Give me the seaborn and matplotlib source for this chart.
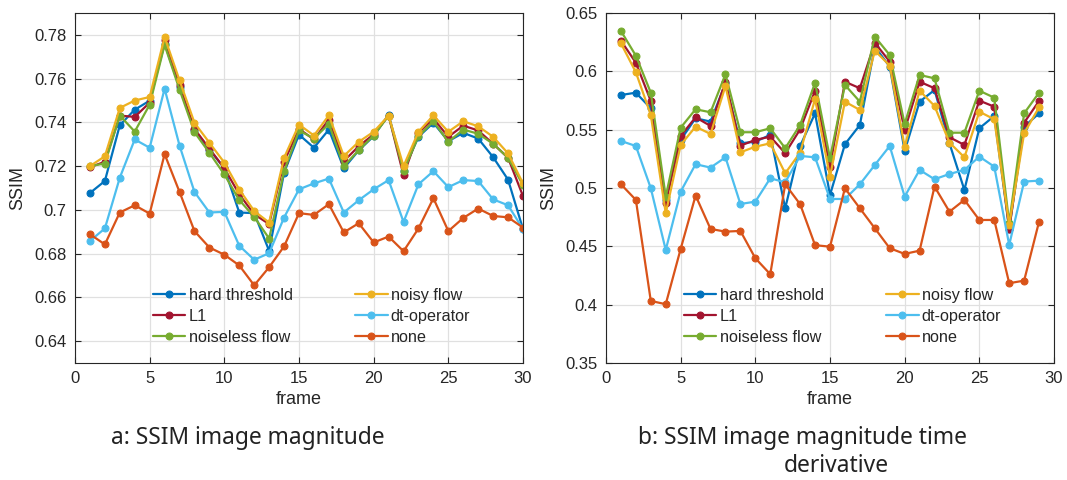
import numpy as np
import pandas as pd
import matplotlib
matplotlib.use("Agg")
import matplotlib.pyplot as plt
import seaborn as sns

# ---------------- data ----------------
frames_a = list(range(1, 31))
frames_b = list(range(1, 30))

series_names = ["hard threshold", "L1", "noiseless flow", "noisy flow", "dt-operator", "none"]
series_colors = ["#0072BD", "#A2142F", "#77AC30", "#EDB120", "#4DBEEE", "#D95319"]

a_hard = [0.7077, 0.7132, 0.7387, 0.7458, 0.7499, 0.776, 0.756, 0.7367, 0.7276, 0.719,
          0.6988, 0.6985, 0.6813, 0.717, 0.7344, 0.7284, 0.7367, 0.719, 0.7272, 0.7337,
          0.7435, 0.718, 0.7334, 0.7398, 0.7314, 0.7352, 0.7326, 0.7241, 0.7138, 0.6912]
a_l1 = [0.7195, 0.722, 0.7431, 0.7425, 0.749, 0.7777, 0.757, 0.737, 0.728, 0.719,
        0.7071, 0.698, 0.6935, 0.722, 0.737, 0.7322, 0.7413, 0.7223, 0.7291, 0.7345,
        0.7431, 0.7158, 0.7352, 0.7417, 0.7334, 0.7385, 0.7363, 0.7302, 0.7238, 0.7063]
a_noiseless = [0.72, 0.7212, 0.7431, 0.7358, 0.7481, 0.7754, 0.755, 0.7355, 0.7261, 0.7162,
               0.7045, 0.6968, 0.6869, 0.7177, 0.7363, 0.7326, 0.7393, 0.72, 0.7273, 0.734,
               0.7431, 0.7177, 0.7337, 0.7405, 0.7311, 0.7367, 0.7348, 0.7302, 0.7238, 0.7113]
a_noisy = [0.72, 0.7245, 0.7466, 0.75, 0.7516, 0.779, 0.7592, 0.7398, 0.7307, 0.7216,
           0.7093, 0.6995, 0.6942, 0.7238, 0.739, 0.734, 0.7432, 0.7246, 0.7311, 0.7357,
           0.7431, 0.72, 0.7357, 0.7432, 0.7357, 0.7405, 0.7382, 0.7334, 0.7258, 0.7121]
a_dt = [0.6858, 0.6915, 0.7147, 0.7322, 0.7284, 0.7554, 0.7294, 0.7082, 0.6988, 0.6991,
        0.6836, 0.6772, 0.6802, 0.6965, 0.7094, 0.7121, 0.7143, 0.6988, 0.7044, 0.7094,
        0.7136, 0.6945, 0.7117, 0.7177, 0.7104, 0.7136, 0.7132, 0.7048, 0.7021, 0.6912]
a_none = [0.6889, 0.6842, 0.6988, 0.7021, 0.6983, 0.7255, 0.7082, 0.6903, 0.6828, 0.6795,
          0.6746, 0.6655, 0.6738, 0.6833, 0.6985, 0.6977, 0.7026, 0.6897, 0.6939, 0.6851,
          0.6878, 0.6811, 0.6915, 0.7053, 0.6903, 0.6963, 0.7006, 0.6972, 0.6966, 0.6919]

b_hard = [0.5797, 0.5817, 0.5683, 0.49, 0.5412, 0.5598, 0.5569, 0.5897, 0.5383, 0.5397,
          0.5455, 0.4826, 0.536, 0.564, 0.494, 0.5375, 0.554, 0.6211, 0.604, 0.5317,
          0.574, 0.584, 0.5383, 0.4983, 0.5512, 0.5617, 0.465, 0.5526, 0.564]
b_l1 = [0.6263, 0.6074, 0.5746, 0.4869, 0.5446, 0.5606, 0.5532, 0.5911, 0.5363, 0.5412,
        0.544, 0.5298, 0.5503, 0.5834, 0.5183, 0.5911, 0.5855, 0.6245, 0.6083, 0.5497,
        0.5911, 0.5855, 0.5435, 0.5369, 0.5749, 0.5697, 0.4647, 0.556, 0.5746]
b_noiseless = [0.6346, 0.6134, 0.5817, 0.4926, 0.5517, 0.5675, 0.5649, 0.5975, 0.5478, 0.5478,
               0.5512, 0.5341, 0.554, 0.5903, 0.5255, 0.5883, 0.574, 0.6297, 0.614, 0.5549,
               0.5969, 0.594, 0.5474, 0.5474, 0.5834, 0.5774, 0.47, 0.564, 0.5817]
b_noisy = [0.624, 0.5992, 0.5626, 0.4784, 0.5369, 0.5526, 0.5463, 0.5874, 0.5306, 0.5354,
           0.5383, 0.5126, 0.5303, 0.5763, 0.5097, 0.574, 0.5669, 0.6177, 0.605, 0.5354,
           0.5834, 0.5703, 0.5389, 0.5263, 0.5654, 0.5589, 0.4683, 0.5469, 0.5692]
b_dt = [0.5403, 0.536, 0.4998, 0.4469, 0.4969, 0.5204, 0.5175, 0.5263, 0.4863, 0.4883,
        0.5083, 0.5049, 0.5275, 0.5263, 0.4906, 0.4906, 0.5032, 0.5197, 0.536, 0.4926,
        0.5155, 0.5075, 0.512, 0.5155, 0.5269, 0.5183, 0.4512, 0.5055, 0.5063]
b_none = [0.5032, 0.4898, 0.4032, 0.4004, 0.4478, 0.4935, 0.4649, 0.4626, 0.4632, 0.4398,
          0.4261, 0.5032, 0.4861, 0.451, 0.4497, 0.4998, 0.4826, 0.4655, 0.4484, 0.4435,
          0.4463, 0.5012, 0.4797, 0.4898, 0.4726, 0.4726, 0.4184, 0.4206, 0.4712]

a_ticks = [0.64, 0.66, 0.68, 0.70, 0.72, 0.74, 0.76, 0.78]
a_ticklabels = ["0.64", "0.66", "0.68", "0.7", "0.72", "0.74", "0.76", "0.78"]
b_ticks = [0.35, 0.40, 0.45, 0.50, 0.55, 0.60, 0.65]
b_ticklabels = ["0.35", "0.4", "0.45", "0.5", "0.55", "0.6", "0.65"]
x_ticks = [0, 5, 10, 15, 20, 25, 30]

caption_a = "a: SSIM image magnitude"
caption_b1 = "b: SSIM image magnitude time"
caption_b2 = "derivative"

# ---------------- style ----------------
sns.set_style("white")
plt.rcParams["font.family"] = ["Liberation Sans", "DejaVu Sans"]

fig = plt.figure(figsize=(10.67, 4.8), dpi=100)
ax_a = fig.add_axes([75 / 1067, 117 / 480, 448 / 1067, 350 / 480])
ax_b = fig.add_axes([606 / 1067, 117 / 480, 448 / 1067, 350 / 480])


def make_df(frames, arrays):
    rows = []
    for name, vals in zip(series_names, arrays):
        for f, v in zip(frames, vals):
            rows.append({"frame": f, "SSIM": v, "method": name})
    return pd.DataFrame(rows)


df_a = make_df(frames_a, [a_hard, a_l1, a_noiseless, a_noisy, a_dt, a_none])
df_b = make_df(frames_b, [b_hard, b_l1, b_noiseless, b_noisy, b_dt, b_none])

palette = dict(zip(series_names, series_colors))

for ax, df, ylim, yt, ytl in [
    (ax_a, df_a, (0.63, 0.79), a_ticks, a_ticklabels),
    (ax_b, df_b, (0.35, 0.65), b_ticks, b_ticklabels),
]:
    for name in series_names:
        sub = df[df["method"] == name]
        sns.lineplot(data=sub, x="frame", y="SSIM", ax=ax, color=palette[name],
                     marker="o", markersize=5, markeredgecolor=palette[name],
                     linewidth=1.6, label=name)
    ax.set_xlim(0, 30)
    ax.set_ylim(*ylim)
    ax.set_xticks(x_ticks)
    ax.set_xticklabels([str(t) for t in x_ticks])
    ax.set_yticks(yt)
    ax.set_yticklabels(ytl)
    ax.grid(True, color="#e0e0e0", linewidth=0.9)
    ax.set_axisbelow(True)
    for s in ax.spines.values():
        s.set_visible(True)
        s.set_color("#262626")
        s.set_linewidth(0.8)
    ax.tick_params(direction="in", length=4, width=0.8, colors="#262626",
                   labelsize=12, top=True, right=True, bottom=True, left=True,
                   labelcolor="#262626", pad=6)
    ax.set_xlabel("frame", fontsize=13, color="#262626", labelpad=3)
    ax.set_ylabel("SSIM", fontsize=13, color="#262626", labelpad=6)
    leg = ax.legend(loc="center", bbox_to_anchor=(0.528, 0.133), ncol=2, frameon=False,
                    fontsize=11.7, handlelength=2.0, handletextpad=0.2,
                    columnspacing=3.85, labelspacing=0.36, borderaxespad=0)
    for t in leg.get_texts():
        t.set_color("#262626")

cap_font = ["Noto Sans", "DejaVu Sans"]
fig.text(248 / 1067, 1 - 438 / 480, caption_a, ha="center", va="center",
         fontsize=16.4, family=cap_font, color="#222222")
fig.text(802 / 1067, 1 - 438 / 480, caption_b1, ha="center", va="center",
         fontsize=16.4, family=cap_font, color="#222222")
fig.text(836 / 1067, 1 - 466 / 480, caption_b2, ha="center", va="center",
         fontsize=16.4, family=cap_font, color="#222222")

fig.savefig("out.png", dpi=100)
